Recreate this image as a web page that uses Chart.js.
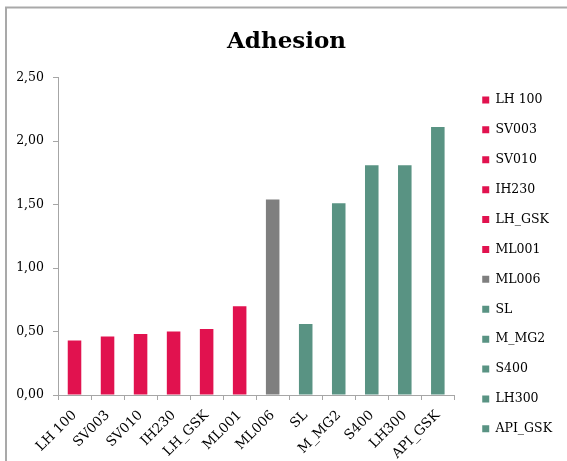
<!DOCTYPE html>
<html>
<head>
<meta charset="utf-8">
<title>Adhesion</title>
<script src="https://cdn.jsdelivr.net/npm/chart.js@4.4.1/dist/chart.umd.min.js"></script>
<style>
  html, body { margin: 0; padding: 0; background: #fff; overflow: hidden; }
</style>
</head>
<body>
<canvas id="adhesion-chart" width="567" height="461"></canvas>
<script>
// Samples, one bar (and one legend entry) each
const samples = ['LH 100', 'SV003', 'SV010', 'IH230', 'LH_GSK', 'ML001', 'ML006', 'SL', 'M_MG2', 'S400', 'LH300', 'API_GSK'];
const adhesion = [0.43, 0.46, 0.48, 0.50, 0.52, 0.70, 1.54, 0.56, 1.51, 1.81, 1.81, 2.11];
// family of each sample: 0 = red group, 1 = ML006, 2 = green group
const family = [0, 0, 0, 0, 0, 0, 1, 2, 2, 2, 2, 2];
const yTicks = [0, 0.5, 1, 1.5, 2, 2.5];

const familyColors = ['#E1124F', '#7F7F7F', '#599383'];
const axisColor = '#a6a6a6';
const serif = 'DejaVu Serif';

// one dataset per sample so every sample shows up in the legend
const datasets = samples.map((name, i) => ({
    label: name,
    data: samples.map((_, j) => (j === i ? adhesion[i] : null)),
    backgroundColor: familyColors[family[i]],
    borderWidth: 0,
    grouped: false,
    categoryPercentage: 1,
    barPercentage: 0.41
}));

// white page and the grey frame around the chart
const framePlugin = {
    id: 'frame',
    afterLayout(chart) {
        // the axis labels may run into the layout padding without being clipped
        chart.scales.x.bottom = chart.height;
        chart.scales.y.left = 0;
    },
    beforeDraw(chart) {
        const ctx = chart.ctx;
        ctx.save();
        ctx.fillStyle = '#fff';
        ctx.fillRect(0, 0, chart.width, chart.height);
        ctx.strokeStyle = '#a9a9a9';
        ctx.lineWidth = 2;
        ctx.beginPath();
        ctx.moveTo(6, chart.height);
        ctx.lineTo(6, 7.5);
        ctx.lineTo(chart.width, 7.5);
        ctx.stroke();
        ctx.restore();
    }
};

const labelFont = { family: serif, size: 12.5 };

new Chart(document.getElementById('adhesion-chart'), {
    type: 'bar',
    data: { labels: samples, datasets: datasets },
    plugins: [framePlugin],
    options: {
        responsive: false,
        animation: false,
        layout: { padding: { left: 19, right: 13, top: 0, bottom: 8.5 } },
        plugins: {
            title: {
                display: true,
                text: 'Adhesion',
                color: '#000',
                font: { family: serif, size: 23, weight: 'bold' },
                padding: { top: 28, bottom: 22 }
            },
            legend: {
                position: 'right',
                align: 'end',
                labels: {
                    boxWidth: 7,
                    boxHeight: 7,
                    padding: 17.4,
                    color: '#000',
                    font: labelFont
                }
            },
            tooltip: { enabled: false }
        },
        scales: {
            x: {
                grid: { offset: true, drawOnChartArea: false, tickLength: 5, color: axisColor },
                border: { color: axisColor },
                ticks: {
                    autoSkip: false,
                    maxRotation: 45,
                    minRotation: 45,
                    padding: 7.5,
                    color: '#000',
                    font: { family: serif, size: 13.5 }
                },
                afterFit(scale) { scale.height = 57.5; }
            },
            y: {
                min: 0,
                max: 2.5,
                afterBuildTicks(scale) { scale.ticks = yTicks.map(v => ({ value: v })); },
                grid: { drawOnChartArea: false, tickLength: 5, color: axisColor },
                border: { color: axisColor },
                ticks: {
                    padding: 9,
                    color: '#000',
                    font: labelFont,
                    callback: v => v.toFixed(2).replace('.', ',')
                },
                afterFit(scale) { scale.width = 39; }
            },
            // empty gap between the plot and the legend
            gap: {
                axis: 'y',
                position: 'right',
                grid: { display: false },
                border: { display: false },
                ticks: { display: false },
                afterFit(scale) { scale.width = 10.5; }
            }
        }
    }
});
</script>
</body>
</html>
